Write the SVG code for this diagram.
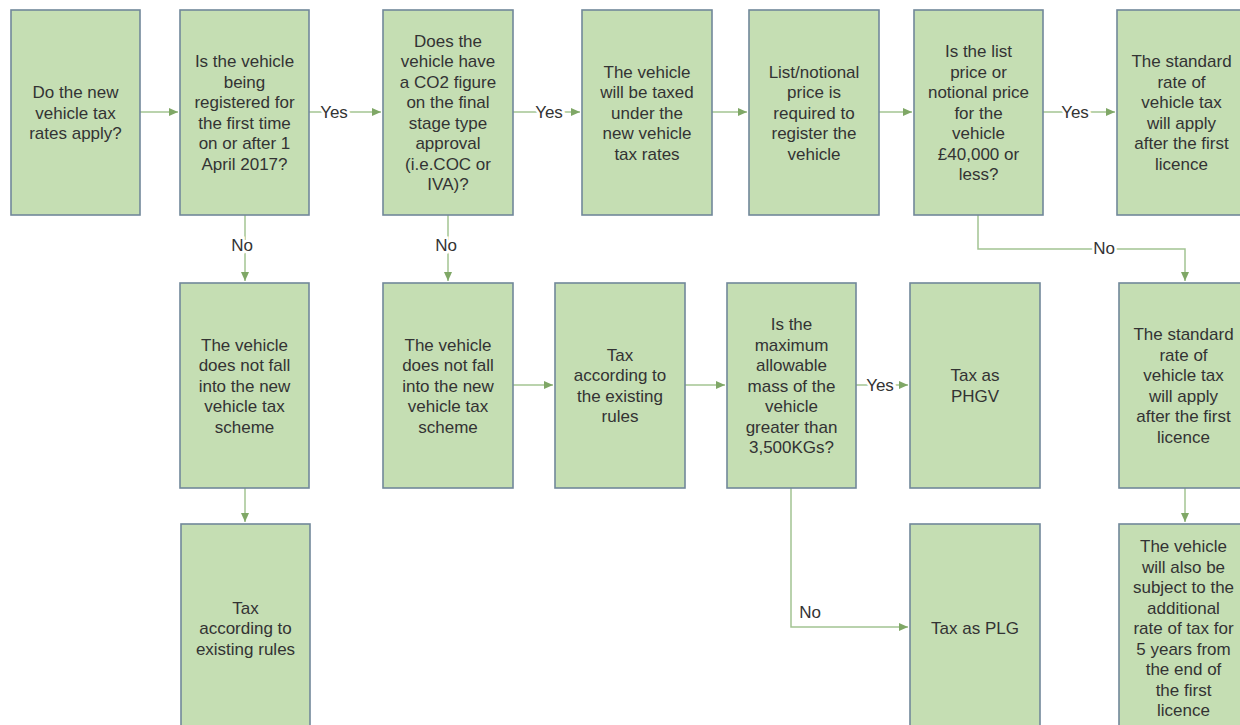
<svg xmlns="http://www.w3.org/2000/svg" width="1240" height="725" viewBox="0 0 1240 725">
<style>
.box{fill:#c5deb3;stroke:#71889a;stroke-width:1.6}
.t{font-family:"Liberation Sans",Arial,sans-serif;font-size:17px;fill:#333;text-anchor:middle}
.lbl{font-family:"Liberation Sans",Arial,sans-serif;font-size:17px;fill:#333;text-anchor:middle;paint-order:stroke;stroke:#fff;stroke-width:5px}
.c{fill:none;stroke:#a3c492;stroke-width:1.5}
</style>
<defs>
<marker id="ah" markerUnits="userSpaceOnUse" markerWidth="9" markerHeight="9" refX="9" refY="4" orient="auto">
<path d="M0,0 L9,4 L0,8 z" fill="#7fa766"/>
</marker>
</defs>
<rect width="1240" height="725" fill="#fff"/>
<g id="connectors">
<path class="c" d="M140,112 L178,112" marker-end="url(#ah)"/>
<path class="c" d="M309,112 L381,112" marker-end="url(#ah)"/>
<path class="c" d="M513,112 L580,112" marker-end="url(#ah)"/>
<path class="c" d="M712,112 L747,112" marker-end="url(#ah)"/>
<path class="c" d="M879,112 L912,112" marker-end="url(#ah)"/>
<path class="c" d="M1043,112 L1115,112" marker-end="url(#ah)"/>
<path class="c" d="M245,215 L245,281" marker-end="url(#ah)"/>
<path class="c" d="M448,215 L448,281" marker-end="url(#ah)"/>
<path class="c" d="M978,215 L978,249 L1185,249 L1185,281" marker-end="url(#ah)"/>
<path class="c" d="M513,385 L553,385" marker-end="url(#ah)"/>
<path class="c" d="M685,385 L725,385" marker-end="url(#ah)"/>
<path class="c" d="M856,385 L908,385" marker-end="url(#ah)"/>
<path class="c" d="M791,488 L791,627 L908,627" marker-end="url(#ah)"/>
<path class="c" d="M245,488 L245,522" marker-end="url(#ah)"/>
<path class="c" d="M1185,488 L1185,522" marker-end="url(#ah)"/>
<text class="lbl" x="334" y="118">Yes</text>
<text class="lbl" x="549" y="118">Yes</text>
<text class="lbl" x="1075" y="118">Yes</text>
<text class="lbl" x="880" y="391">Yes</text>
<text class="lbl" x="242" y="251">No</text>
<text class="lbl" x="446" y="251">No</text>
<text class="lbl" x="1104" y="254">No</text>
<text class="lbl" x="810" y="618">No</text>
</g>
<g id="n1"><rect class="box" x="11" y="10" width="129" height="205"/>
<text class="t" x="75.5" y="98"><tspan x="75.5">Do the new</tspan><tspan x="75.5" dy="20.5">vehicle tax</tspan><tspan x="75.5" dy="20.5">rates apply?</tspan></text></g>
<g id="n2"><rect class="box" x="180" y="10" width="129" height="205"/>
<text class="t" y="67.25"><tspan x="244.5">Is the vehicle</tspan><tspan x="244.5" dy="20.5">being</tspan><tspan x="244.5" dy="20.5">registered for</tspan><tspan x="244.5" dy="20.5">the first time</tspan><tspan x="244.5" dy="20.5">on or after 1</tspan><tspan x="244.5" dy="20.5">April 2017?</tspan></text></g>
<g id="n3"><rect class="box" x="383" y="10" width="130" height="205"/>
<text class="t" y="46.75"><tspan x="448">Does the</tspan><tspan x="448" dy="20.5">vehicle have</tspan><tspan x="448" dy="20.5">a CO2 figure</tspan><tspan x="448" dy="20.5">on the final</tspan><tspan x="448" dy="20.5">stage type</tspan><tspan x="448" dy="20.5">approval</tspan><tspan x="448" dy="20.5">(i.e.COC or</tspan><tspan x="448" dy="20.5">IVA)?</tspan></text></g>
<g id="n4"><rect class="box" x="582" y="10" width="130" height="205"/>
<text class="t" y="77.5"><tspan x="647">The vehicle</tspan><tspan x="647" dy="20.5">will be taxed</tspan><tspan x="647" dy="20.5">under the</tspan><tspan x="647" dy="20.5">new vehicle</tspan><tspan x="647" dy="20.5">tax rates</tspan></text></g>
<g id="n5"><rect class="box" x="749" y="10" width="130" height="205"/>
<text class="t" y="77.5"><tspan x="814">List/notional</tspan><tspan x="814" dy="20.5">price is</tspan><tspan x="814" dy="20.5">required to</tspan><tspan x="814" dy="20.5">register the</tspan><tspan x="814" dy="20.5">vehicle</tspan></text></g>
<g id="n6"><rect class="box" x="914" y="10" width="129" height="205"/>
<text class="t" y="57"><tspan x="978.5">Is the list</tspan><tspan x="978.5" dy="20.5">price or</tspan><tspan x="978.5" dy="20.5">notional price</tspan><tspan x="978.5" dy="20.5">for the</tspan><tspan x="978.5" dy="20.5">vehicle</tspan><tspan x="978.5" dy="20.5">£40,000 or</tspan><tspan x="978.5" dy="20.5">less?</tspan></text></g>
<g id="n7"><rect class="box" x="1117" y="10" width="129" height="205"/>
<text class="t" y="67.25"><tspan x="1181.5">The standard</tspan><tspan x="1181.5" dy="20.5">rate of</tspan><tspan x="1181.5" dy="20.5">vehicle tax</tspan><tspan x="1181.5" dy="20.5">will apply</tspan><tspan x="1181.5" dy="20.5">after the first</tspan><tspan x="1181.5" dy="20.5">licence</tspan></text></g>
<g id="n8"><rect class="box" x="180" y="283" width="129" height="205"/>
<text class="t" y="350.5"><tspan x="244.5">The vehicle</tspan><tspan x="244.5" dy="20.5">does not fall</tspan><tspan x="244.5" dy="20.5">into the new</tspan><tspan x="244.5" dy="20.5">vehicle tax</tspan><tspan x="244.5" dy="20.5">scheme</tspan></text></g>
<g id="n9"><rect class="box" x="383" y="283" width="130" height="205"/>
<text class="t" y="350.5"><tspan x="448">The vehicle</tspan><tspan x="448" dy="20.5">does not fall</tspan><tspan x="448" dy="20.5">into the new</tspan><tspan x="448" dy="20.5">vehicle tax</tspan><tspan x="448" dy="20.5">scheme</tspan></text></g>
<g id="n10"><rect class="box" x="555" y="283" width="130" height="205"/>
<text class="t" y="360.75"><tspan x="620">Tax</tspan><tspan x="620" dy="20.5">according to</tspan><tspan x="620" dy="20.5">the existing</tspan><tspan x="620" dy="20.5">rules</tspan></text></g>
<g id="n11"><rect class="box" x="727" y="283" width="129" height="205"/>
<text class="t" y="330"><tspan x="791.5">Is the</tspan><tspan x="791.5" dy="20.5">maximum</tspan><tspan x="791.5" dy="20.5">allowable</tspan><tspan x="791.5" dy="20.5">mass of the</tspan><tspan x="791.5" dy="20.5">vehicle</tspan><tspan x="791.5" dy="20.5">greater than</tspan><tspan x="791.5" dy="20.5">3,500KGs?</tspan></text></g>
<g id="n12"><rect class="box" x="910" y="283" width="130" height="205"/>
<text class="t" y="381.25"><tspan x="975">Tax as</tspan><tspan x="975" dy="20.5">PHGV</tspan></text></g>
<g id="n13"><rect class="box" x="1119" y="283" width="129" height="205"/>
<text class="t" y="340.25"><tspan x="1183.5">The standard</tspan><tspan x="1183.5" dy="20.5">rate of</tspan><tspan x="1183.5" dy="20.5">vehicle tax</tspan><tspan x="1183.5" dy="20.5">will apply</tspan><tspan x="1183.5" dy="20.5">after the first</tspan><tspan x="1183.5" dy="20.5">licence</tspan></text></g>
<g id="n14"><rect class="box" x="181" y="524" width="129" height="205"/>
<text class="t" y="613.5"><tspan x="245.5">Tax</tspan><tspan x="245.5" dy="20.5">according to</tspan><tspan x="245.5" dy="20.5">existing rules</tspan></text></g>
<g id="n15"><rect class="box" x="910" y="524" width="130" height="205"/>
<text class="t" x="975" y="634">Tax as PLG</text></g>
<g id="n16"><rect class="box" x="1119" y="524" width="129" height="205"/>
<text class="t" y="552"><tspan x="1183.5">The vehicle</tspan><tspan x="1183.5" dy="20.5">will also be</tspan><tspan x="1183.5" dy="20.5">subject to the</tspan><tspan x="1183.5" dy="20.5">additional</tspan><tspan x="1183.5" dy="20.5">rate of tax for</tspan><tspan x="1183.5" dy="20.5">5 years from</tspan><tspan x="1183.5" dy="20.5">the end of</tspan><tspan x="1183.5" dy="20.5">the first</tspan><tspan x="1183.5" dy="20.5">licence</tspan></text></g>
</svg>
